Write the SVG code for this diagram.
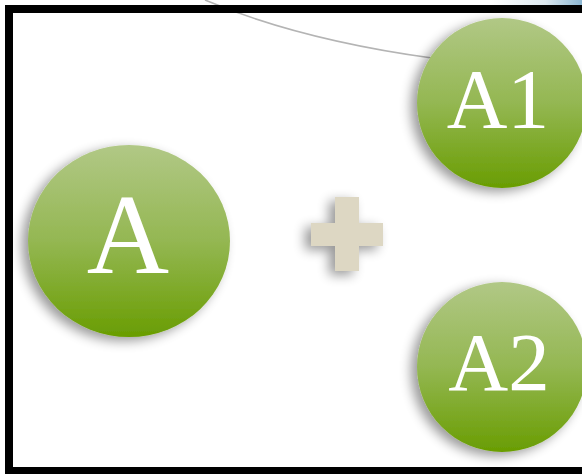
<svg xmlns="http://www.w3.org/2000/svg" width="582" height="474" viewBox="0 0 582 474">
<style>
.lbl{font-family:"Liberation Serif","DejaVu Serif",serif;fill:#ffffff;text-anchor:middle}
.ball{fill:url(#g)}
</style>
<defs>
<linearGradient id="g" x1="0" y1="0" x2="0" y2="1">
<stop offset="0" stop-color="#b1c886"/>
<stop offset="0.5" stop-color="#94b752"/>
<stop offset="1" stop-color="#699d02"/>
</linearGradient>
<linearGradient id="blue" x1="0" y1="0" x2="1" y2="0">
<stop offset="0" stop-color="#ffffff"/>
<stop offset="0.6" stop-color="#dde9f0"/>
<stop offset="1" stop-color="#8bb6d2"/>
</linearGradient>
<filter id="sh" x="-30%" y="-30%" width="160%" height="160%">
<feGaussianBlur in="SourceAlpha" stdDeviation="6"/>
<feOffset dx="-6" dy="4" result="b"/>
<feComponentTransfer><feFuncA type="linear" slope="0.4"/></feComponentTransfer>
<feMerge><feMergeNode/><feMergeNode in="SourceGraphic"/></feMerge>
</filter>
</defs>
<rect x="0" y="0" width="582" height="474" fill="#ffffff"/>
<path d="M490 0 L582 0 L582 6 L490 6 Z" fill="url(#blue)"/>
<g id="connectors">
<path d="M205 0 Q300 40 432 58" fill="none" stroke="#b4b4b4" stroke-width="1.6"/>
</g>
<rect x="9" y="9" width="590" height="462" fill="none" stroke="#000000" stroke-width="8"/>
<g id="plus" filter="url(#sh)">
<rect x="335" y="197" width="24" height="74" fill="#ddd7c3"/>
<rect x="311" y="223" width="72" height="23" fill="#ddd7c3"/>
</g>
<g id="nodeA">
<ellipse class="ball" cx="129" cy="241" rx="101" ry="96" filter="url(#sh)"/>
<text class="lbl" x="128" y="273" font-size="114">A</text>
</g>
<g id="nodeA1">
<ellipse class="ball" cx="502" cy="103" rx="85" ry="85" filter="url(#sh)"/>
<text class="lbl" x="498" y="128" font-size="84">A1</text>
</g>
<g id="nodeA2">
<ellipse class="ball" cx="502" cy="367" rx="85" ry="85" filter="url(#sh)"/>
<text class="lbl" x="499" y="390" font-size="83">A2</text>
</g>
</svg>
